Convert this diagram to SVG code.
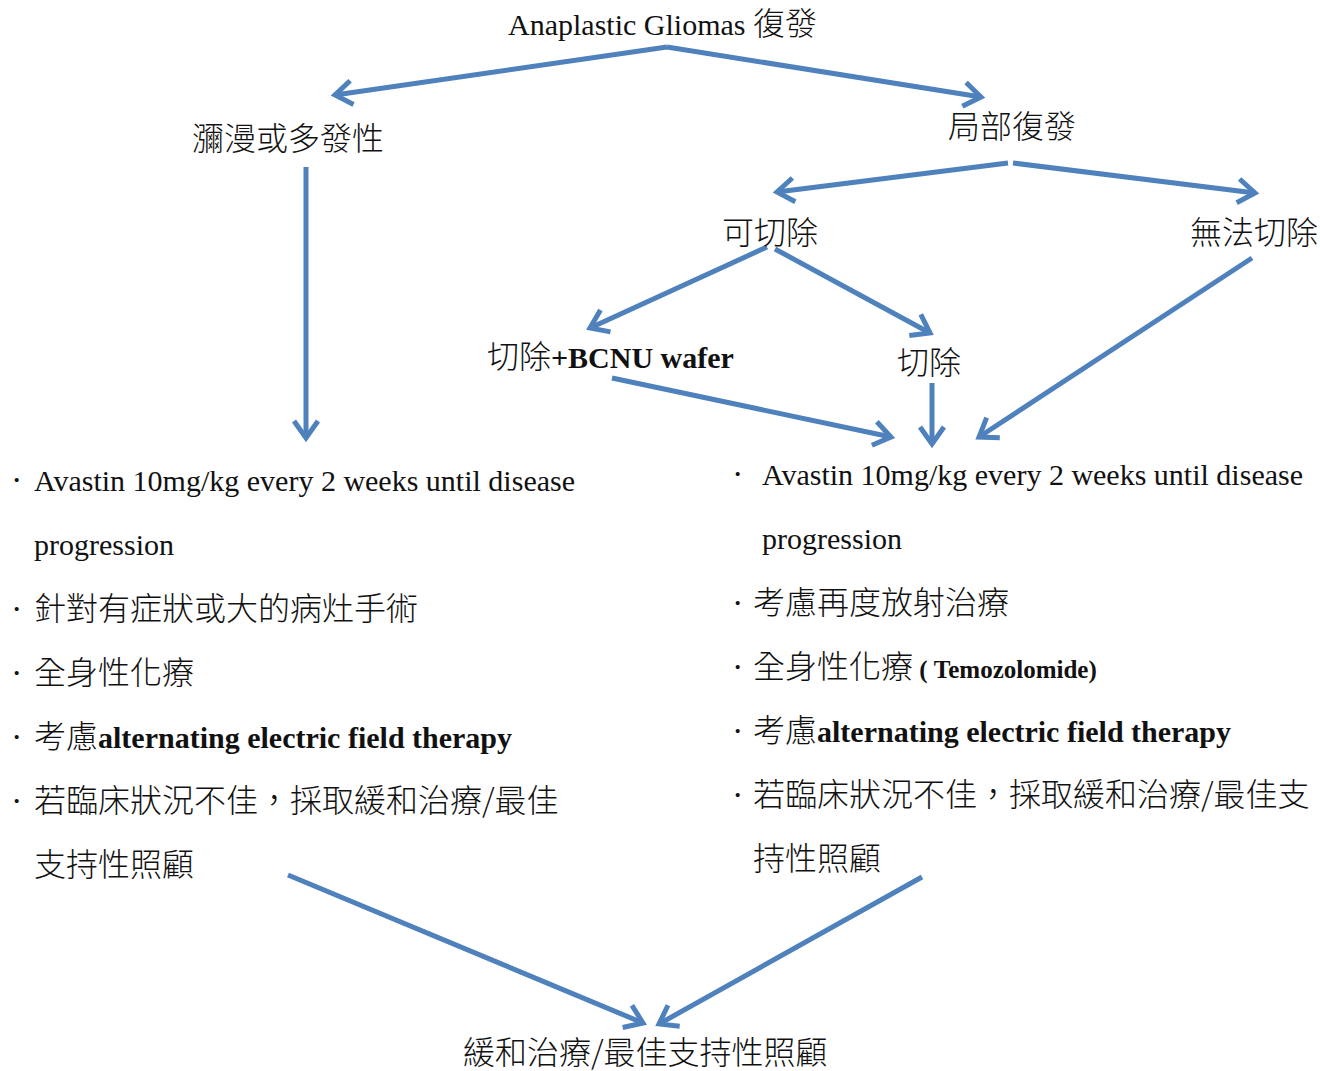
<svg xmlns="http://www.w3.org/2000/svg" width="1320" height="1071" viewBox="0 0 1320 1071">
  <style>
    text { font-family: "Liberation Serif", "Noto Sans CJK TC", serif; font-size: 30px; fill: #111; }
    .cj { font-family: "Noto Sans CJK TC", "Liberation Serif", sans-serif; font-size: 32px; font-weight: 300; }
    .b { font-weight: bold; }
    .sm { font-size: 25px; font-weight: bold; }
    .dot { font-size: 34px; }
    .conn line { stroke: #4F81BD; stroke-width: 5; fill: none; marker-end: url(#chev); }
  </style>
  <defs>
    <marker id="chev" markerUnits="userSpaceOnUse" viewBox="-30 -20 40 40" markerWidth="40" markerHeight="40" refX="0" refY="0" orient="auto" overflow="visible">
      <path d="M -17 -12 L 0 0 L -17 12" fill="none" stroke="#4F81BD" stroke-width="5" stroke-linejoin="miter"/>
    </marker>
  </defs>
  <rect width="1320" height="1071" fill="#fff"/>

  <g class="conn">
    <line x1="667" y1="47" x2="335" y2="95"/>
    <line x1="667" y1="47" x2="981" y2="97"/>
    <line x1="306" y1="167" x2="306" y2="438"/>
    <line x1="1008" y1="163" x2="777" y2="192"/>
    <line x1="1013" y1="163" x2="1255" y2="193"/>
    <line x1="767" y1="247" x2="590" y2="328"/>
    <line x1="775" y1="249" x2="930" y2="333"/>
    <line x1="1252" y1="258" x2="979" y2="437"/>
    <line x1="612" y1="378" x2="891" y2="437"/>
    <line x1="932" y1="383" x2="932" y2="444"/>
    <line x1="288" y1="875" x2="643" y2="1023"/>
    <line x1="922" y1="877" x2="659" y2="1024"/>
  </g>

  <g id="root">
    <text x="508" y="35">Anaplastic Gliomas <tspan class="cj">復發</tspan></text>
  </g>
  <g id="diffuse">
    <text class="cj" x="192" y="150">瀰漫或多發性</text>
  </g>
  <g id="local">
    <text class="cj" x="948" y="138">局部復發</text>
  </g>
  <g id="resectable">
    <text class="cj" x="722" y="244">可切除</text>
  </g>
  <g id="unresectable">
    <text class="cj" x="1190" y="244">無法切除</text>
  </g>
  <g id="resect-bcnu">
    <text x="487" y="368"><tspan class="cj">切除</tspan><tspan class="b">+BCNU wafer</tspan></text>
  </g>
  <g id="resect">
    <text class="cj" x="897" y="374">切除</text>
  </g>

  <g id="diffuse-plan">
    <text x="11" y="491"><tspan class="dot">·</tspan><tspan x="34">Avastin 10mg/kg every 2 weeks until disease</tspan></text>
    <text x="34" y="555">progression</text>
    <text x="11" y="620"><tspan class="dot">·</tspan><tspan class="cj" x="34">針對有症狀或大的病灶手術</tspan></text>
    <text x="11" y="684"><tspan class="dot">·</tspan><tspan class="cj" x="34">全身性化療</tspan></text>
    <text x="11" y="748"><tspan class="dot">·</tspan><tspan class="cj" x="34">考慮</tspan><tspan class="b">alternating electric field therapy</tspan></text>
    <text x="11" y="812"><tspan class="dot">·</tspan><tspan class="cj" x="34">若臨床狀況不佳，採取緩和治療/最佳</tspan></text>
    <text class="cj" x="34" y="876">支持性照顧</text>
  </g>

  <g id="local-plan">
    <text x="732" y="485"><tspan class="dot">·</tspan><tspan x="762">Avastin 10mg/kg every 2 weeks until disease</tspan></text>
    <text x="762" y="549">progression</text>
    <text x="732" y="614"><tspan class="dot">·</tspan><tspan class="cj" x="753">考慮再度放射治療</tspan></text>
    <text x="732" y="678"><tspan class="dot">·</tspan><tspan class="cj" x="753">全身性化療</tspan><tspan class="sm"> ( Temozolomide)</tspan></text>
    <text x="732" y="742"><tspan class="dot">·</tspan><tspan class="cj" x="753">考慮</tspan><tspan class="b">alternating electric field therapy</tspan></text>
    <text x="732" y="806"><tspan class="dot">·</tspan><tspan class="cj" x="753">若臨床狀況不佳，採取緩和治療/最佳支</tspan></text>
    <text class="cj" x="753" y="870">持性照顧</text>
  </g>

  <g id="palliative">
    <text class="cj" x="463" y="1064">緩和治療/最佳支持性照顧</text>
  </g>
</svg>
